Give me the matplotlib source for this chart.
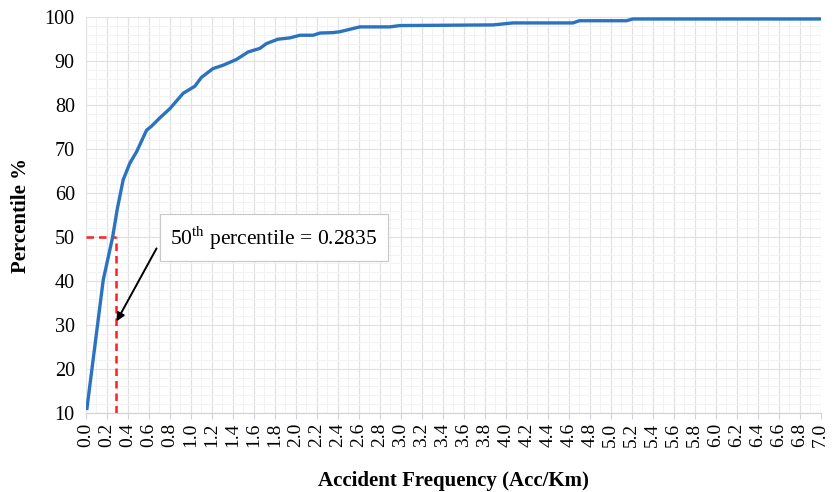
import matplotlib.pyplot as plt
import numpy as np

# cumulative distribution of accident frequency
freq = [0.01, 0.165, 0.254, 0.30, 0.355, 0.419, 0.483, 0.578, 0.625, 0.70, 0.80,
        0.927, 1.038, 1.10, 1.21, 1.31, 1.435, 1.546, 1.657, 1.72, 1.83, 1.943,
        2.04, 2.165, 2.23, 2.355, 2.42, 2.61, 2.895, 2.99, 3.88, 4.07, 4.32,
        4.64, 4.70, 5.15, 5.21, 6.99]
pct = [11.0, 40.2, 49.9, 56.5, 63.0, 66.8, 69.4, 74.3, 75.2, 77.0, 79.2,
       82.7, 84.3, 86.3, 88.3, 89.1, 90.4, 92.1, 92.9, 94.0, 95.0, 95.3,
       95.9, 95.9, 96.4, 96.5, 96.7, 97.8, 97.8, 98.1, 98.25, 98.7, 98.7,
       98.7, 99.2, 99.2, 99.6, 99.6]

p50_x = 0.2835
p50_y = 50
note = '50$^{\\mathrm{th}}$ percentile = 0.2835 '

plt.rcParams['font.family'] = 'Liberation Serif'
plt.rcParams['mathtext.fontset'] = 'custom'
plt.rcParams['mathtext.rm'] = 'Liberation Serif'

fig = plt.figure(figsize=(8.34, 4.92), dpi=100)
ax = fig.add_axes([0.103, 0.161, 0.881, 0.804])

ax.plot(freq, pct, color='#2b72c0', lw=2.4, zorder=3)

# 50th percentile guide lines
ax.plot([0, p50_x], [p50_y, p50_y], color='#ff2020', ls=(0, (3, 2)), lw=1.8, zorder=2)
ax.plot([p50_x, p50_x], [10, p50_y], color='#ff2020', ls=(0, (3, 2)), lw=1.8, zorder=2)

# callout box + arrow
ax.text(0.80, 49.8, note, fontsize=15.5, ha='left', va='center', zorder=5,
        bbox=dict(boxstyle='square,pad=0.45', fc='white', ec='#c8c8c8', lw=0.8))
ax.annotate('', xy=(0.292, 30.8), xytext=(0.673, 47.4),
            arrowprops=dict(arrowstyle='-|>', color='black', lw=1.4,
                            mutation_scale=12, shrinkA=0, shrinkB=0),
            zorder=6)

ax.set_xlim(0, 7.0)
ax.set_ylim(10, 100)
xt = np.round(np.arange(0, 7.01, 0.2), 1)
ax.set_xticks(xt)
ax.set_xticklabels([f'{v:.1f}' for v in xt], rotation=90, fontsize=14)
ax.set_yticks(range(10, 101, 10))
ax.tick_params(axis='y', labelsize=14.5, length=0, pad=8)
ax.tick_params(axis='x', length=4, color='#c9d3e3', pad=3)
ax.set_xticks(np.arange(0, 7.01, 0.1), minor=True)
ax.set_yticks(range(10, 101, 2), minor=True)
ax.tick_params(which='minor', length=0)

ax.grid(True, which='major', color='#e2e2e2', lw=0.9)
ax.grid(True, which='minor', color='#f2f2f2', lw=0.7)
ax.set_axisbelow(True)

for s in ['top', 'right', 'left']:
    ax.spines[s].set_visible(False)
ax.spines['bottom'].set_color('#c9d3e3')

ax.set_xlabel('Accident Frequency (Acc/Km)', fontsize=15, fontweight='bold', labelpad=17)
ax.set_ylabel('Percentile %', fontsize=15, fontweight='bold', labelpad=10)

plt.savefig('out.png', dpi=100)
plt.close()
